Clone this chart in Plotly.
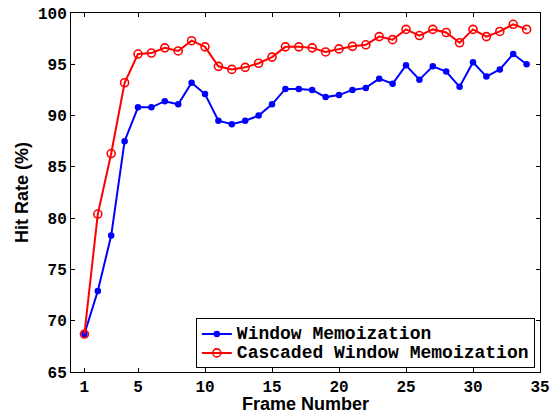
import plotly.graph_objects as go

frames = list(range(1, 35))
window_memo = [68.7, 72.9, 78.3, 87.5, 90.8, 90.8, 91.4, 91.1, 93.2, 92.1,
               89.5, 89.15, 89.5, 90.0, 91.1, 92.6, 92.6, 92.5, 91.8, 92.0,
               92.5, 92.7, 93.6, 93.1, 94.9, 93.5, 94.8, 94.3, 92.8, 95.2,
               93.8, 94.5, 96.0, 95.0]
cascaded_memo = [68.7, 80.4, 86.3, 93.2, 96.0, 96.1, 96.6, 96.3, 97.3, 96.7,
                 94.8, 94.5, 94.7, 95.1, 95.7, 96.7, 96.7, 96.6, 96.2, 96.5,
                 96.75, 96.9, 97.7, 97.4, 98.4, 97.8, 98.4, 98.1, 97.1, 98.4,
                 97.7, 98.2, 98.9, 98.4]
x_ticks = [1, 5, 10, 15, 20, 25, 30, 35]
y_ticks = [65, 70, 75, 80, 85, 90, 95, 100]
series_names = ["Window Memoization", "Cascaded Window Memoization"]

mono = "Liberation Mono"


def legend_label(name):
    return '<span style="font-size:18px">' + name + '</span>'


fig = go.Figure()
fig.add_trace(go.Scatter(
    x=frames, y=window_memo, mode="lines+markers", name=legend_label(series_names[0]),
    line=dict(color="#0000ff", width=2),
    marker=dict(symbol="circle", size=6.5, color="#0000ff"),
))
fig.add_trace(go.Scatter(
    x=frames, y=cascaded_memo, mode="lines+markers", name=legend_label(series_names[1]),
    line=dict(color="#ff0000", width=2),
    marker=dict(symbol="circle-open", size=8, color="#ff0000", line=dict(width=1.6)),
))

axis_common = dict(
    showline=True, linecolor="black", linewidth=1, mirror="ticks",
    ticks="inside", ticklen=4, tickcolor="black", showgrid=False, zeroline=False,
    automargin=False,
    tickfont=dict(family=mono, size=16, color="black", weight="bold"),
)
fig.update_xaxes(range=[0, 35], tickmode="array", tickvals=x_ticks,
                 title=dict(text="<b>Frame Number</b>", standoff=0,
                            font=dict(family="Liberation Sans", size=18, color="black")),
                 **axis_common)
fig.update_yaxes(range=[65, 100], tickmode="array", tickvals=y_ticks,
                 title=dict(text="<b>Hit Rate (%)</b>", standoff=4,
                            font=dict(family="Liberation Sans", size=18, color="black")),
                 **axis_common)

fig.update_layout(
    width=551, height=414,
    margin=dict(l=71, r=11, t=13, b=42),
    plot_bgcolor="white", paper_bgcolor="white",
    legend=dict(x=0.989, y=0.010, xanchor="right", yanchor="bottom",
                bordercolor="black", borderwidth=1, bgcolor="white",
                font=dict(family=mono, size=12, color="black", weight="bold"),
                tracegroupgap=0, itemwidth=30),
    showlegend=True,
)

fig.write_html("out.html", config={"displayModeBar": False},
               post_script="document.body.style.margin='0';")
